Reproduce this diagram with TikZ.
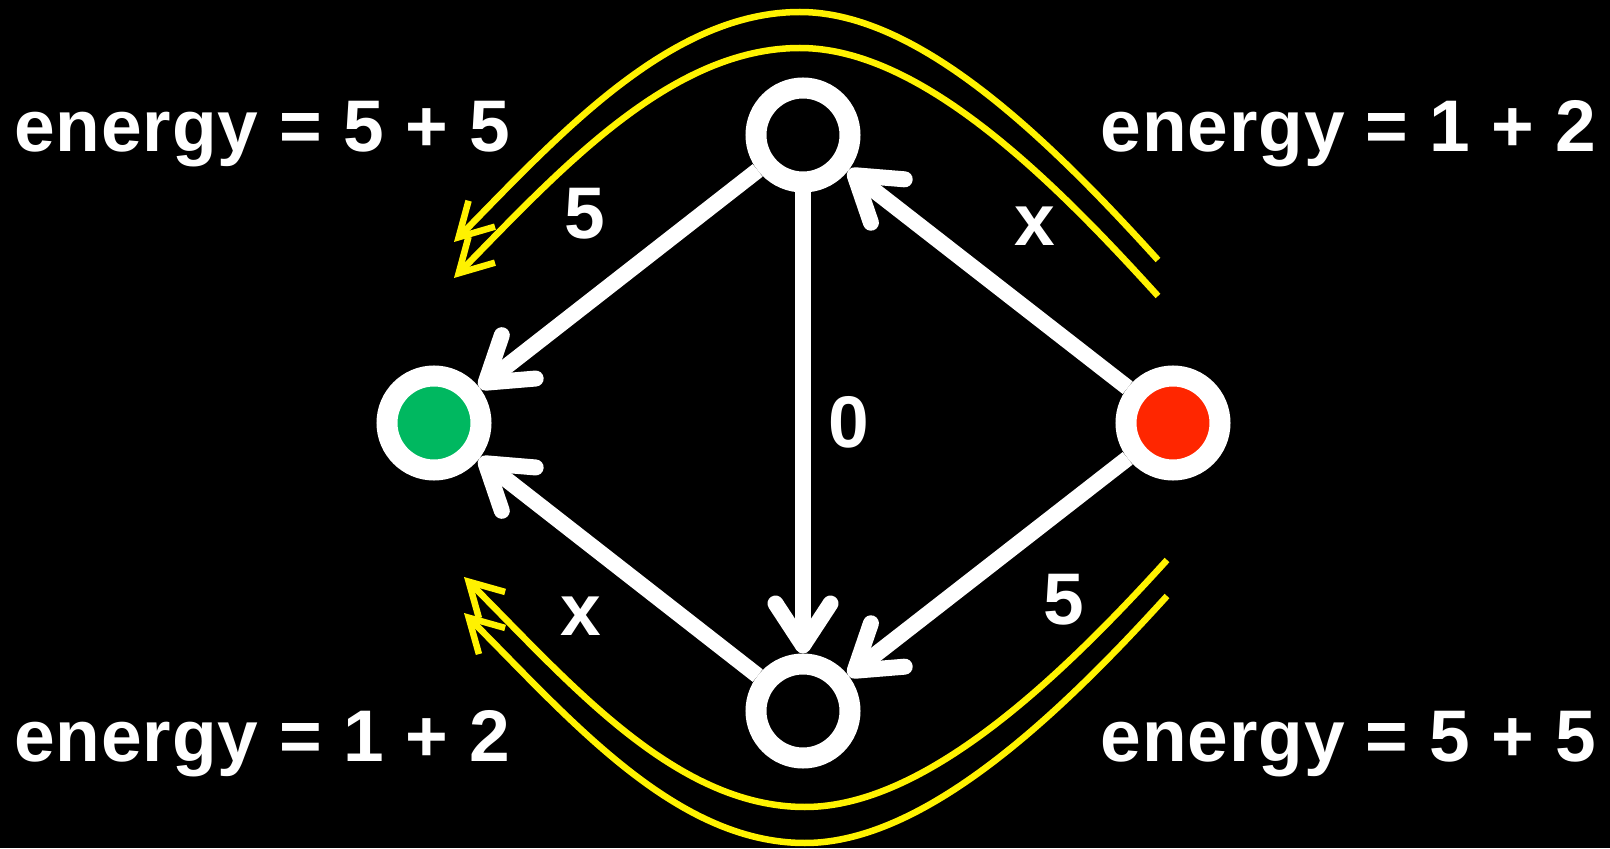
\documentclass[tikz,border=0pt]{standalone}
\usepackage{fontspec}
\setmainfont[LetterSpace=1.2]{Liberation Sans}
\usetikzlibrary{arrows.meta}
\definecolor{startgreen}{RGB}{0,184,96}
\definecolor{goalred}{RGB}{255,38,0}

\begin{document}
\begin{tikzpicture}[
    font=\fontsize{20.8pt}{24pt}\selectfont\bfseries,
    state node/.style={circle, draw=white, line width=0.21cm, minimum size=0.94cm, inner sep=0pt},
    edge/.style={white, line width=0.16cm, -{Straight Barb[length=0.42cm, width=0.55cm, round]}},
    flow/.style={yellow, line width=0.065cm, -{Straight Barb[length=0.33cm, width=0.37cm]}},
    label text/.style={text=white, inner sep=0pt}
]
    \fill[black] (0,0) rectangle (16.1,8.48);
    \useasboundingbox (0,0) rectangle (16.1,8.48);

    % Nodes
    \node[state node, fill=startgreen] (S) at (4.34, 4.25) {};
    \node[state node] (T) at (8.03, 7.13) {};
    \node[state node] (B) at (8.03, 1.37) {};
    \node[state node, fill=goalred] (G) at (11.73, 4.25) {};

    % Edges
    \draw[edge] (T) -- (S);
    \draw[edge] (B) -- (S);
    \draw[edge] (T) -- (B);
    \draw[edge] (G) -- (T);
    \draw[edge] (G) -- (B);

    % Edge weights
    \node[label text] (wTS) at (5.85, 6.34) {5};
    \node[label text] (wGT) at (10.35, 6.22) {x};
    \node[label text] (wTB) at (8.49, 4.26) {0};
    \node[label text] (wBS) at (5.81, 2.32) {x};
    \node[label text] (wGB) at (10.64, 2.48) {5};

    % Energies
    \node[label text, anchor=base west] (eTL) at (0.136, 6.965) {energy = 5 + 5};
    \node[label text, anchor=base west] (eTR) at (11.00, 6.965) {energy = 1 + 2};
    \node[label text, anchor=base west] (eBL) at (0.136, 0.863) {energy = 1 + 2};
    \node[label text, anchor=base west] (eBR) at (11.00, 0.863) {energy = 5 + 5};

    % Paths over the top and bottom
    \coordinate (top out a) at (11.58, 5.88);
    \coordinate (top in a) at (4.54, 6.06);
    \coordinate (top out b) at (11.58, 5.52);
    \coordinate (top in b) at (4.54, 5.70);
    \coordinate (bot out a) at (11.67, 2.88);
    \coordinate (bot in a) at (4.64, 2.71);
    \coordinate (bot out b) at (11.67, 2.52);
    \coordinate (bot in b) at (4.64, 2.35);
    \draw[flow] (top out a) .. controls (10.51, 7.06) and (9.2, 8.36) .. (8.00, 8.36)
        .. controls (6.7, 8.36) and (5.59, 7.13) .. (top in a);
    \draw[flow] (top out b) .. controls (10.51, 6.70) and (9.2, 8.00) .. (8.00, 8.00)
        .. controls (6.7, 8.00) and (5.59, 6.77) .. (top in b);
    \draw[flow] (bot out a) .. controls (10.60, 1.70) and (9.25, 0.41) .. (8.05, 0.41)
        .. controls (6.75, 0.41) and (5.69, 1.66) .. (bot in a);
    \draw[flow] (bot out b) .. controls (10.60, 1.34) and (9.25, 0.05) .. (8.05, 0.05)
        .. controls (6.75, 0.05) and (5.69, 1.30) .. (bot in b);
\end{tikzpicture}
\end{document}
